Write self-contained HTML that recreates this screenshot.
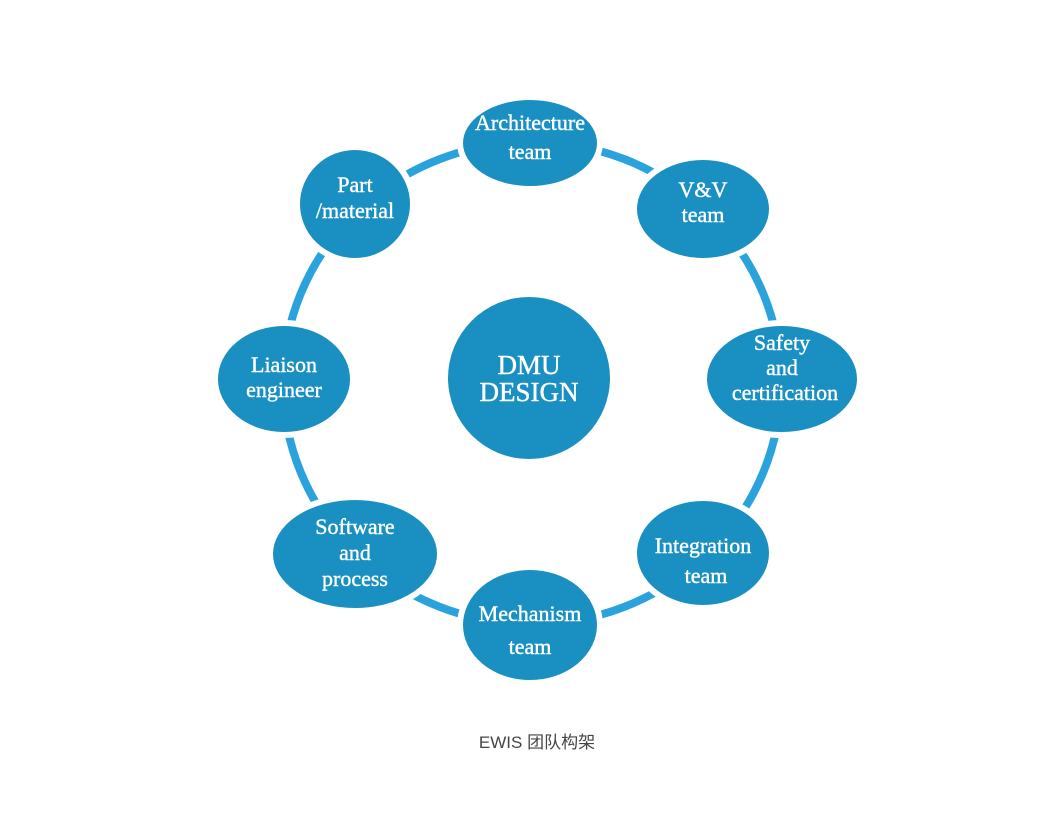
<!DOCTYPE html>
<html><head><meta charset="utf-8"><style>
html,body{margin:0;padding:0;background:#fff;width:1060px;height:833px;overflow:hidden}
</style></head><body>
<svg width="1060" height="833" viewBox="0 0 1060 833" xmlns="http://www.w3.org/2000/svg">
<ellipse cx="532" cy="383" rx="249" ry="241" fill="none" stroke="#2aa3dc" stroke-width="8"/>
<g fill="#1a90c2" stroke="#fff" stroke-width="6">
<ellipse cx="530" cy="143" rx="70" ry="46"/>
<ellipse cx="703" cy="209" rx="69" ry="52"/>
<ellipse cx="782" cy="379" rx="78" ry="56"/>
<ellipse cx="703" cy="553" rx="69" ry="55"/>
<ellipse cx="530" cy="625" rx="70" ry="58"/>
<ellipse cx="355" cy="554" rx="85" ry="57"/>
<ellipse cx="284" cy="379" rx="69" ry="56"/>
<ellipse cx="355" cy="204" rx="58" ry="57"/>
</g>
<circle cx="529" cy="378" r="81" fill="#1a90c2"/>
<g fill="#fff" stroke="#fff" stroke-width="0.4" font-family="Liberation Serif, serif" font-size="22" text-anchor="middle">
<text x="530" y="130">Architecture</text><text x="530" y="159">team</text>
<text x="703" y="197">V&amp;V</text><text x="703" y="222">team</text>
<text x="782" y="350">Safety</text><text x="782" y="375">and</text><text x="785" y="400">certification</text>
<text x="703" y="553">Integration</text><text x="706" y="583">team</text>
<text x="530" y="621">Mechanism</text><text x="530" y="654">team</text>
<text x="355" y="534">Software</text><text x="355" y="560">and</text><text x="355" y="586">process</text>
<text x="284" y="372">Liaison</text><text x="284" y="397">engineer</text>
<text x="355" y="192">Part</text><text x="355" y="218">/material</text>
<text x="529" y="374" font-size="27">DMU</text><text x="529" y="401" font-size="27">DESIGN</text>
</g>
<text x="537" y="748" text-anchor="middle" font-family="Liberation Sans, 'Noto Sans CJK SC', sans-serif" font-size="17" fill="#444">EWIS 团队构架</text>
</svg>
</body></html>
